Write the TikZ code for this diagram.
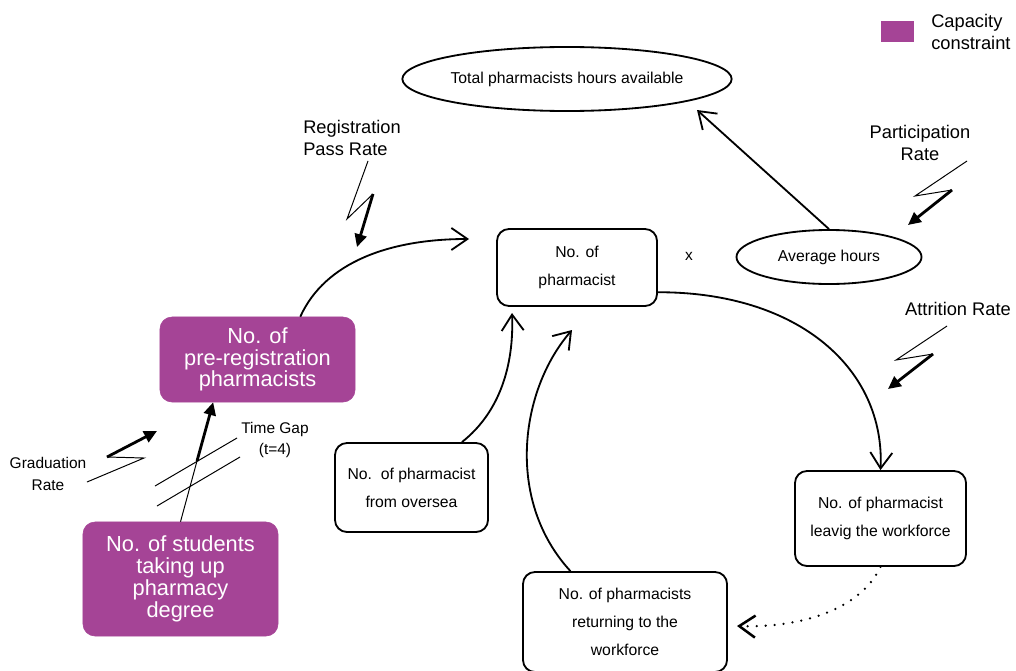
\documentclass[tikz,border=0pt]{standalone}
\usepackage{fontspec}
\setmainfont{Liberation Sans}
\usetikzlibrary{arrows.meta,shapes.geometric}
\definecolor{capacity}{RGB}{165,68,150}
\tikzset{
  box/.style={draw, line width=1.3pt, rounded corners=0.3cm, align=center, inner sep=0pt, font=\fontsize{11.2}{19.8}\selectfont},
  capbox/.style={fill=capacity, draw=capacity, rounded corners=0.3cm, align=center, inner sep=0pt, text=white, font=\fontsize{15.5}{15.5}\selectfont},
  oval/.style={ellipse, draw, line width=1.3pt, inner sep=0pt, font=\fontsize{11.2}{13}\selectfont},
  ratetext/.style={align=center, inner sep=0pt, font=\fontsize{13}{15}\selectfont},
  smalltext/.style={align=center, inner sep=0pt, font=\fontsize{11}{15}\selectfont},
  flow/.style={line width=1.3pt, -{Straight Barb[length=4mm,width=5.5mm]}},
  zig/.style={line width=0.7pt},
  zigarrow/.style={line width=2pt, -{Triangle[length=3.2mm,width=3mm]}},
}

\begin{document}
\begin{tikzpicture}[x=0.025cm, y=-0.025cm]
		%%%%% START %%%%%
		\useasboundingbox (0,0) rectangle (1016,670);
		
		% legend
		\node[fill=capacity, minimum width=0.825cm, minimum height=0.525cm, inner sep=0pt] (legendkey) at (897.5,31.5) {};
		\node[ratetext, align=left, anchor=west] (legendtext) at (931,32) {Capacity\\constraint};
		
		% stocks
		\node[oval, minimum width=7.75cm, minimum height=1.6cm] (total) at (567,79) {Total pharmacists hours available};
		\node[oval, minimum width=4.625cm, minimum height=1.35cm] (avg) at (829,257) {Average hours};
		\node[box, minimum width=4cm, minimum height=1.925cm] (pharm) at (577,267.5) {No. of\\pharmacist};
		\node[box, minimum width=3.825cm, minimum height=2.225cm] (oversea) at (411.5,487.5) {No.\ \ of pharmacist\\from oversea};
		\node[box, minimum width=4.275cm, minimum height=2.375cm] (leaving) at (880.5,518.5) {No. of pharmacist\\leavig the workforce};
		\node[box, minimum width=5.1cm, minimum height=2.5cm] (returning) at (625,622) {No. of pharmacists\\returning to the\\workforce};
		\node[capbox, minimum width=4.875cm, minimum height=2.125cm] (prereg) at (257.5,359.5) {No. of\\pre-registration\\pharmacists};
		\node[capbox, minimum width=4.875cm, minimum height=2.85cm] (students) at (180.5,579) {No. of students\\taking up\\pharmacy\\degree};
		
		% rates
		\node[ratetext, align=left, anchor=west] (regrate) at (303,138) {Registration\\Pass Rate};
		\node[ratetext] (partrate) at (920,143) {Participation\\Rate};
		\node[ratetext] (attrrate) at (958,309) {Attrition Rate};
		\node[smalltext] (gradrate) at (48,474) {Graduation\\Rate};
		\node[smalltext] (timegap) at (275,440) {Time Gap\\(t=4)};
		\node[smalltext] (times) at (689,256) {x};
		
		% free ends
		\coordinate (totalin) at (697,110);
		\coordinate (pharmin1) at (469,239);
		\coordinate (pharmin2) at (512,313);
		\coordinate (pharmin3) at (572,330);
		\coordinate (returnin) at (737,626);
		\coordinate (tg) at (197,461);
		
		% flows
		\draw[flow] (avg.north) -- (totalin);
		\draw[flow] (prereg.45) .. controls (325,262) and (390,239) .. (pharmin1);
		\draw[flow] (oversea.42) .. controls (500,412) and (514,365) .. (pharmin2);
		\draw[flow] (returning.137) .. controls (505,500) and (520,390) .. (pharmin3);
		\draw[flow] (pharm.-17) .. controls (800,292) and (885,370) .. (leaving.north);
		\draw[flow, dash pattern=on 0pt off 6.4pt, line cap=round, line width=1.8pt] (leaving.south) .. controls (860,610) and (800,628) .. (returnin);
		\draw[zig] (students.north) -- (tg);
		\draw[zigarrow] (tg) -- (prereg.-136);
		
		% time gap
		\draw[zig] (155,486) -- (237,438);
		\draw[zig] (157,506) -- (240,457);
		
		% graduation rate
		\draw[zig] (87,482) -- (144,458) -- (107,457);
		\draw[zigarrow] (107,457) -- (157,431);
		
		% registration pass rate
		\draw[zig] (368,161) -- (347,219) -- (373,194);
		\draw[zigarrow] (373,194) -- (357,247);
		
		% participation rate
		\draw[zig] (967,161) -- (915,196) -- (952,190);
		\draw[zigarrow] (952,190) -- (908,225);
		
		% attrition rate
		\draw[zig] (947,326) -- (896,360) -- (933,354);
		\draw[zigarrow] (933,354) -- (888,389);
		%%%%% END %%%%%
\end{tikzpicture}
\end{document}
